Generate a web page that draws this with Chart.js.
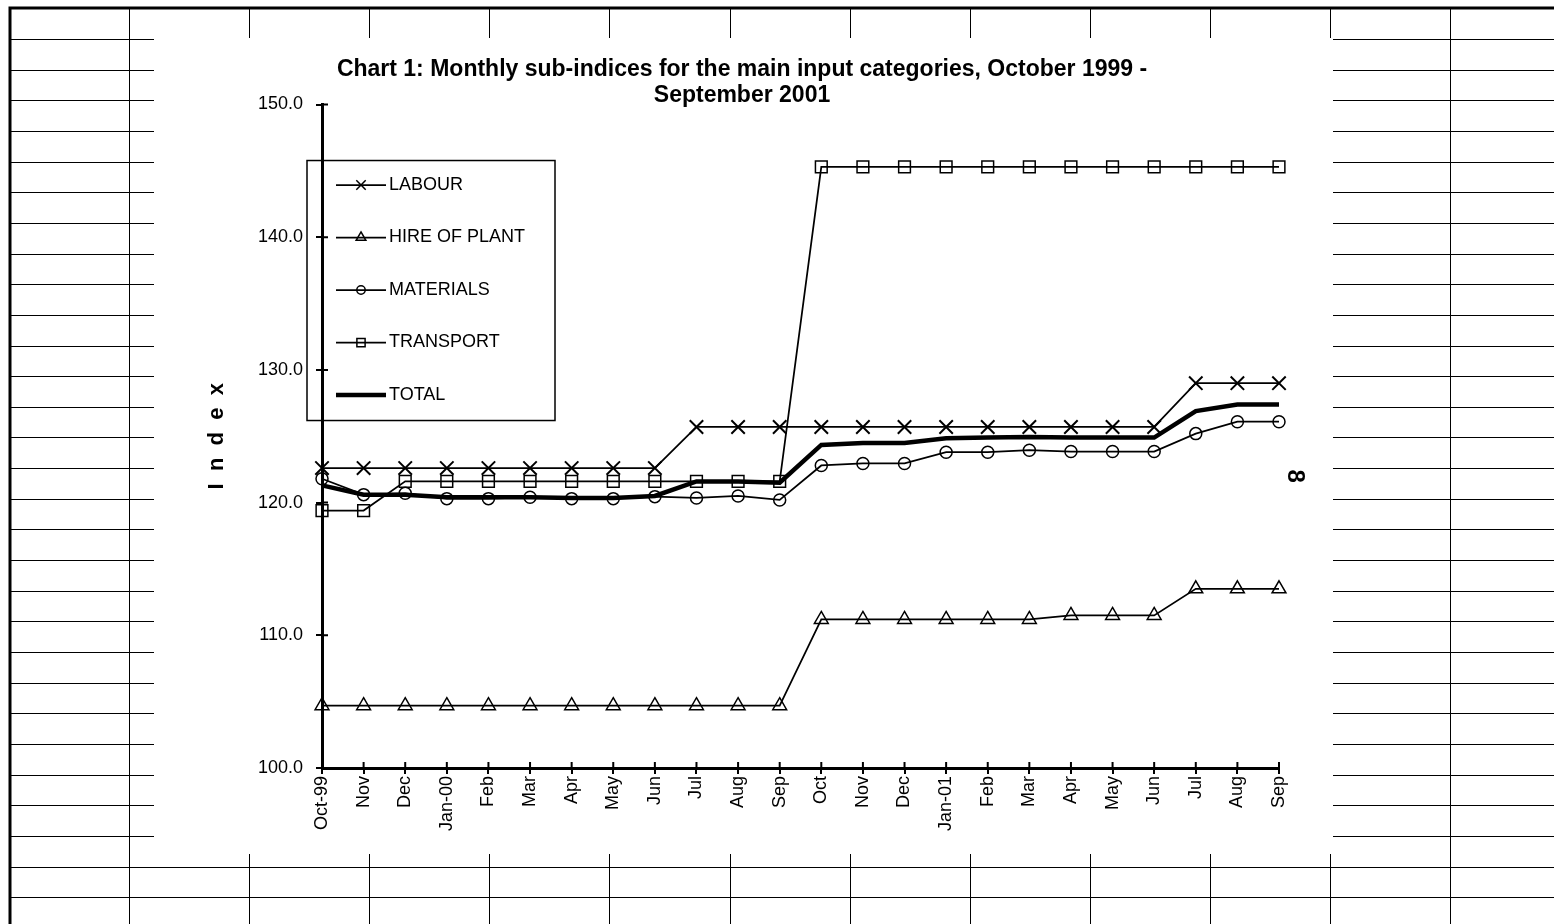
<!DOCTYPE html>
<html>
<head>
<meta charset="utf-8">
<title>Chart 1: Monthly sub-indices</title>
<script src="https://cdn.jsdelivr.net/npm/chart.js@4.4.1/dist/chart.umd.min.js"></script>
<style>
  html, body { margin: 0; padding: 0; background: #fff; }
  #wrap { position: relative; width: 1554px; height: 924px; }
</style>
</head>
<body>
<div id="wrap"><canvas id="indexChart"></canvas></div>
<script>
const months = ["Oct-99", "Nov", "Dec", "Jan-00", "Feb", "Mar", "Apr", "May", "Jun", "Jul", "Aug", "Sep",
                "Oct", "Nov", "Dec", "Jan-01", "Feb", "Mar", "Apr", "May", "Jun", "Jul", "Aug", "Sep"];

const labour = [122.6, 122.6, 122.6, 122.6, 122.6, 122.6, 122.6, 122.6, 122.6, 125.7, 125.7, 125.7,
                125.7, 125.7, 125.7, 125.7, 125.7, 125.7, 125.7, 125.7, 125.7, 129.0, 129.0, 129.0];
const hirePlant = [104.7, 104.7, 104.7, 104.7, 104.7, 104.7, 104.7, 104.7, 104.7, 104.7, 104.7, 104.7,
                   111.2, 111.2, 111.2, 111.2, 111.2, 111.2, 111.5, 111.5, 111.5, 113.5, 113.5, 113.5];
const materials = [121.8, 120.6, 120.7, 120.3, 120.3, 120.4, 120.3, 120.3, 120.45, 120.35, 120.5, 120.2,
                   122.8, 122.95, 122.95, 123.8, 123.8, 123.95, 123.85, 123.85, 123.85, 125.2, 126.1, 126.1];
const transport = [119.4, 119.4, 121.6, 121.6, 121.6, 121.6, 121.6, 121.6, 121.6, 121.6, 121.6, 121.6,
                   145.3, 145.3, 145.3, 145.3, 145.3, 145.3, 145.3, 145.3, 145.3, 145.3, 145.3, 145.3];
const total = [121.3, 120.6, 120.6, 120.4, 120.4, 120.4, 120.35, 120.35, 120.5, 121.6, 121.6, 121.5,
               124.35, 124.5, 124.5, 124.85, 124.9, 124.95, 124.9, 124.9, 124.9, 126.9, 127.4, 127.4];

const yMin = 100;
const yMax = 150;
const yStep = 10;

const FONT = "'Liberation Sans', Arial, Helvetica, sans-serif";
Chart.defaults.font.family = FONT;
Chart.defaults.color = "#000";

// spreadsheet cells behind the chart object, legend box, inner tick halves
const sheetPlugin = {
  id: "sheet",
  beforeDraw(chart) {
    const ctx = chart.ctx;
    const w = chart.width, h = chart.height;
    ctx.save();
    ctx.fillStyle = "#fff";
    ctx.fillRect(0, 0, w, h);
    ctx.strokeStyle = "#000";
    ctx.lineWidth = 1;
    ctx.beginPath();
    for (let x = 129; x < w; x += 120.1) {
      const px = Math.round(x) + 0.5;
      ctx.moveTo(px, 8);
      ctx.lineTo(px, h);
    }
    for (let y = 39; y < h; y += 30.65) {
      const py = Math.round(y) + 0.5;
      ctx.moveTo(10, py);
      ctx.lineTo(w, py);
    }
    ctx.stroke();
    ctx.fillRect(154, 38, 1179, 816);
    ctx.lineWidth = 3;
    ctx.beginPath();
    ctx.moveTo(10, h);
    ctx.lineTo(10, 8);
    ctx.lineTo(w, 8);
    ctx.stroke();
    ctx.restore();
  },
  afterDraw(chart) {
    const { ctx, chartArea: ca, scales } = chart;
    ctx.save();
    ctx.strokeStyle = "#000";
    ctx.lineWidth = 2;
    ctx.beginPath();
    scales.x.ticks.forEach((t, i) => {
      const x = scales.x.getPixelForTick(i);
      ctx.moveTo(x, ca.bottom);
      ctx.lineTo(x, ca.bottom - 6);
    });
    scales.y.ticks.forEach((t, i) => {
      const y = scales.y.getPixelForTick(i);
      ctx.moveTo(ca.left, y);
      ctx.lineTo(ca.left + 6, y);
    });
    ctx.stroke();

    // legend
    const bx = ca.left - 15, by = ca.top + 56;
    ctx.lineWidth = 1.5;
    ctx.strokeRect(bx, by, 248, 260);
    ctx.font = "18px " + FONT;
    ctx.textBaseline = "middle";
    chart.data.datasets.forEach((ds, i) => {
      const y = by + 24.5 + i * 52.5;
      ctx.lineWidth = ds.borderWidth;
      ctx.beginPath();
      ctx.moveTo(bx + 29, y);
      ctx.lineTo(bx + 79, y);
      ctx.stroke();
      if (ds.pointRadius > 0) {
        ctx.lineWidth = 1.5;
        ctx.fillStyle = "rgba(0,0,0,0)";
        Chart.helpers.drawPoint(ctx, {
          pointStyle: ds.pointStyle, radius: ds.pointRadius * 0.7, rotation: 0, borderWidth: 1.5
        }, bx + 54, y);
      }
      ctx.fillStyle = "#000";
      ctx.fillText(ds.label, bx + 82, y);
    });

    // stray secondary axis title
    ctx.font = "bold 24px " + FONT;
    ctx.textAlign = "center";
    ctx.translate(ca.right + 16, ca.top + ca.height * 0.56);
    ctx.rotate(Math.PI / 2);
    ctx.fillText("8", 0, 0);
    ctx.restore();
  }
};

const series = [
  { label: "LABOUR", data: labour, pointStyle: "crossRot", pointRadius: 9.5, pointBorderWidth: 2, borderWidth: 1.75 },
  { label: "HIRE OF PLANT", data: hirePlant, pointStyle: "triangle", pointRadius: 8, pointBorderWidth: 1.5, borderWidth: 1.75 },
  { label: "MATERIALS", data: materials, pointStyle: "circle", pointRadius: 6, pointBorderWidth: 1.5, borderWidth: 1.75 },
  { label: "TRANSPORT", data: transport, pointStyle: "rect", pointRadius: 8.3, pointBorderWidth: 1.5, borderWidth: 1.75 },
  { label: "TOTAL", data: total, pointStyle: "circle", pointRadius: 0, pointBorderWidth: 0, borderWidth: 4.5 }
].map(ds => Object.assign({
  borderColor: "#000",
  pointBorderColor: "#000",
  pointBackgroundColor: "rgba(0,0,0,0)",
  pointHoverRadius: ds.pointRadius,
  tension: 0,
  fill: false,
  clip: false,
  yAxisID: "y"
}, ds));

const indexChart = new Chart(document.getElementById("indexChart"), {
  type: "line",
  data: { labels: months, datasets: series },
  plugins: [sheetPlugin],
  options: {
    responsive: true,
    maintainAspectRatio: false,
    animation: false,
    events: [],
    layout: { padding: { left: 150, right: 220, top: 0, bottom: 76 } },
    plugins: {
      legend: { display: false },
      tooltip: { enabled: false },
      title: {
        display: true,
        text: ["Chart 1: Monthly sub-indices for the main input categories, October 1999 -", "September 2001"],
        color: "#000",
        font: { size: 23, weight: "bold", lineHeight: 1.12 },
        padding: { top: 57, bottom: -4 }
      }
    },
    scales: {
      x: {
        offset: false,
        grid: { display: true, drawOnChartArea: false, tickLength: 6, color: "#000", lineWidth: 2 },
        border: { display: true, color: "#000", width: 3 },
        ticks: { autoSkip: false, minRotation: 90, maxRotation: 90, padding: 2, font: { size: 18 }, color: "#000" },
        afterFit(s) { s.height = 80; }
      },
      y: {
        min: yMin,
        max: yMax,
        grid: { display: true, drawOnChartArea: false, tickLength: 6, color: "#000", lineWidth: 2 },
        border: { display: true, color: "#000", width: 3 },
        ticks: { stepSize: yStep, padding: 13, font: { size: 18 }, color: "#000", callback: v => v.toFixed(1) },
        title: {
          display: true,
          text: "I  n  d  e  x",
          color: "#000",
          font: { size: 22, weight: "bold" },
          padding: { top: 54, bottom: 0 }
        },
        afterFit(s) { s.width = 172; }
      },
      y2: {
        type: "linear",
        position: "right",
        display: true,
        grid: { display: false },
        border: { display: false },
        ticks: { display: false },
        afterFit(s) { s.width = 55; }
      }
    }
  }
});
</script>
</body>
</html>
